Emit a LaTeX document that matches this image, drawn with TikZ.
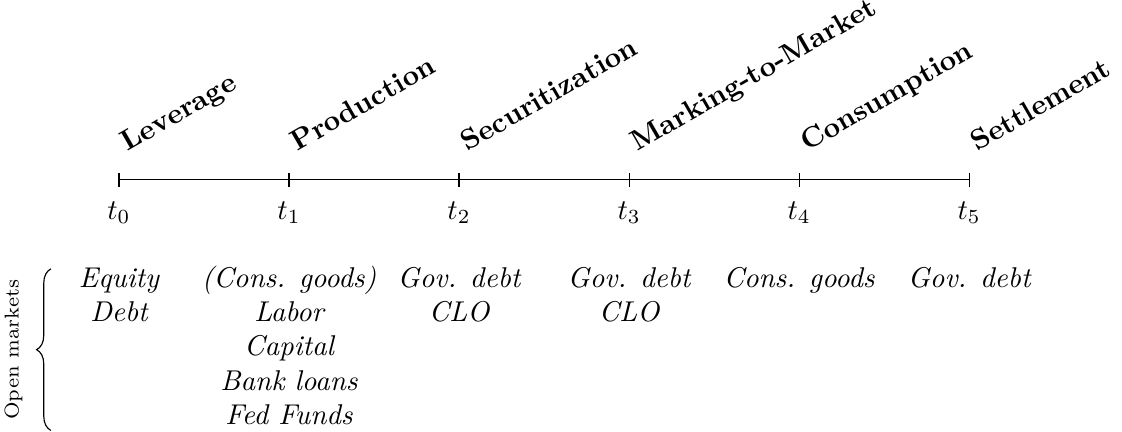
\documentclass[tikz,border=0pt]{standalone}
\usetikzlibrary{positioning, calc, decorations.pathreplacing}

\tikzset{
  phase/.style={rotate=30, anchor=base west, font=\bfseries},
  market/.style={anchor=north, align=center, font=\itshape},
}

\begin{document}
\begin{tikzpicture}
    \useasboundingbox (-41.6pt,-88.1pt) rectangle (350.7pt,62.9pt);
    % time line
    \foreach \i in {0,...,5}
        \coordinate (t\i) at (59.45pt*\i,0);
    \draw (t0) -- (t5);
    \foreach \i in {0,...,5} {
        \draw ($(t\i)+(0,2.4pt)$) -- ($(t\i)-(0,2.4pt)$);
        \node[anchor=north] (lbl\i) at ($(t\i)-(0,4.2pt)$) {$t_\i$};
    }
    % phases
    \foreach \i/\name in {0/Leverage, 1/Production, 2/Securitization,
                          3/Marking-to-Market, 4/Consumption, 5/Settlement}
        \node[phase] (ph\i) at ($(t\i)+(0,8pt)$) {\name};
    % markets
    \foreach \i/\list in {0/{Equity\\Debt},
                          1/{(Cons. goods)\\Labor\\Capital\\Bank loans\\Fed Funds},
                          2/{Gov. debt\\CLO}, 3/{Gov. debt\\CLO},
                          4/{Cons. goods}, 5/{Gov. debt}}
        \node[market] (mk\i) at ($(t\i)-(0,25.6pt)$) {\strut\list};
    \coordinate (brtop) at (-23.8pt,-31.1pt);
    \coordinate (brbot) at (-23.8pt,-87.6pt);
    \draw[decorate, decoration={brace, amplitude=5pt}] (brbot) -- (brtop);
    \node[rotate=90, anchor=south, font=\scriptsize] (om)
        at ($(brtop)!0.5!(brbot)-(6.4pt,0)$) {Open markets};
\end{tikzpicture}
\end{document}
